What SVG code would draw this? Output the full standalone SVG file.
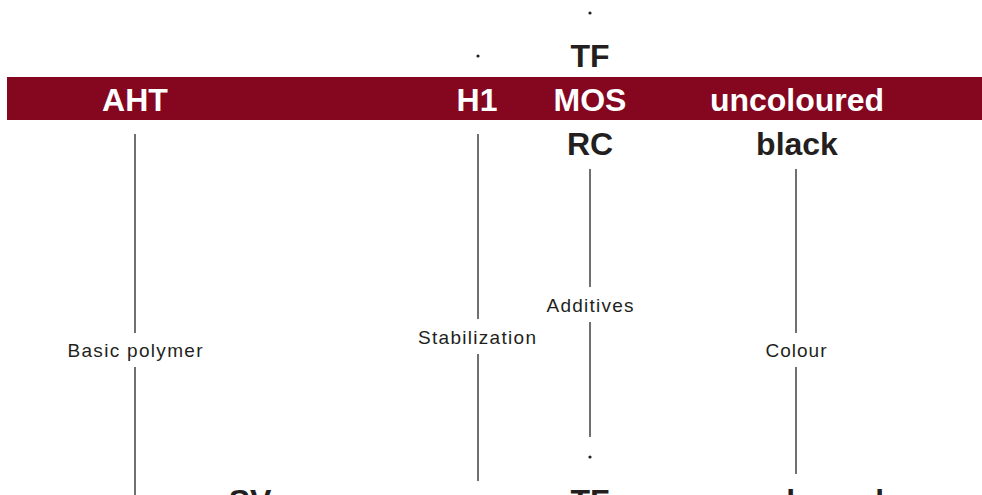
<svg xmlns="http://www.w3.org/2000/svg" width="982" height="495" viewBox="0 0 982 495">
<style>
.band{fill:#84061f}
.big{font-family:"Liberation Sans",Arial,sans-serif;font-weight:bold;font-size:32px;text-anchor:middle;fill:#231f20}
.inv{fill:#ffffff}
.lbl{font-family:"Liberation Sans",Arial,sans-serif;font-size:19px;text-anchor:middle;fill:#231f20}
.ln{stroke:#333333;stroke-width:1.4;fill:none}
.dot{fill:#231f20}
</style>
<rect class="band" x="7" y="77" width="975" height="43"/>
<g id="connectors">
<line class="ln" x1="135" y1="134" x2="135" y2="333"/>
<line class="ln" x1="135" y1="367" x2="135" y2="495"/>
<line class="ln" x1="478" y1="134" x2="478" y2="319"/>
<line class="ln" x1="478" y1="354" x2="478" y2="481"/>
<line class="ln" x1="590" y1="169" x2="590" y2="287"/>
<line class="ln" x1="590" y1="322" x2="590" y2="437"/>
<line class="ln" x1="796" y1="169" x2="796" y2="333"/>
<line class="ln" x1="796" y1="367" x2="796" y2="474"/>
</g>
<g id="dot-top"><circle class="dot" cx="590" cy="13" r="1.6"/></g>
<g id="dot-h1"><circle class="dot" cx="478" cy="56" r="1.6"/></g>
<g id="dot-bottom"><circle class="dot" cx="590" cy="457" r="1.6"/></g>
<g id="node-tf-top"><text class="big" x="590" y="67">TF</text></g>
<g id="node-aht"><text class="big inv" x="135" y="111">AHT</text></g>
<g id="node-h1"><text class="big inv" x="477" y="111">H1</text></g>
<g id="node-mos"><text class="big inv" x="590" y="111">MOS</text></g>
<g id="node-uncoloured"><text class="big inv" x="797" y="111">uncoloured</text></g>
<g id="node-rc"><text class="big" x="590" y="155">RC</text></g>
<g id="node-black"><text class="big" x="797" y="155">black</text></g>
<g id="label-basic"><text class="lbl" x="135" y="357" textLength="135" lengthAdjust="spacing">Basic polymer</text></g>
<g id="label-stab"><text class="lbl" x="477" y="344" textLength="118" lengthAdjust="spacing">Stabilization</text></g>
<g id="label-add"><text class="lbl" x="590" y="312" textLength="87" lengthAdjust="spacing">Additives</text></g>
<g id="label-colour"><text class="lbl" x="796" y="357" textLength="61" lengthAdjust="spacing">Colour</text></g>
<g id="node-sv"><text class="big" x="250" y="512">SV</text></g>
<g id="node-tf-bottom"><text class="big" x="590" y="512">TF</text></g>
<g id="node-uncoloured-bottom"><text class="big" x="797" y="512">uncoloured</text></g>
</svg>
